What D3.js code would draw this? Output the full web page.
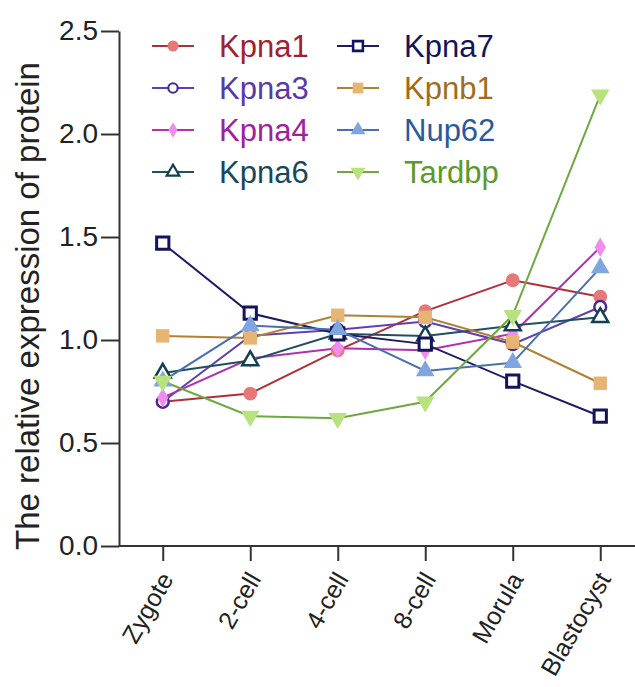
<!DOCTYPE html>
<html><head><meta charset="utf-8">
<script src="https://cdn.jsdelivr.net/npm/d3@7/dist/d3.min.js"></script>
<style>body{margin:0;background:#fff}svg{display:block;font-family:"Liberation Sans",Arial,sans-serif}</style>
</head><body><svg id="c" width="635" height="687"></svg>
<script>
const categories = ["Zygote","2-cell","4-cell","8-cell","Morula","Blastocyst"];
const yTicks = [0,0.5,1.0,1.5,2.0,2.5];
const seriesNames = ["Kpna1","Kpna3","Kpna4","Kpna6","Kpna7","Kpnb1","Nup62","Tardbp"];
const kpna1  = [0.70,0.74,0.95,1.14,1.29,1.21];
const kpna3  = [0.70,1.02,1.05,1.09,0.98,1.16];
const kpna4  = [0.72,0.91,0.96,0.95,1.03,1.45];
const kpna6  = [0.84,0.90,1.03,1.02,1.07,1.11];
const kpna7  = [1.47,1.13,1.03,0.98,0.80,0.63];
const kpnb1  = [1.02,1.01,1.12,1.11,0.99,0.79];
const nup62  = [0.80,1.07,1.05,0.85,0.89,1.35];
const tardbp = [0.80,0.63,0.62,0.70,1.12,2.19];
const seriesValues = [kpna1,kpna3,kpna4,kpna6,kpna7,kpnb1,nup62,tardbp];

const styles = {
  Kpna1:{line:"#b03038",fill:"#e87878",stroke:"none",sym:"circle",size:150,text:"#a32030"},
  Kpna3:{line:"#6040b0",fill:"#fff",stroke:"#4a2a90",sym:"circle",size:110,text:"#5a38a8",sw:2.5},
  Kpna4:{line:"#b030b0",fill:"#f08cf0",stroke:"none",sym:"diamond",size:110,text:"#a020a0"},
  Kpna6:{line:"#1e5060",fill:"#fff",stroke:"#143f50",sym:"triangle",size:110,text:"#18485a",sw:2.5},
  Kpna7:{line:"#1c1c62",fill:"#fff",stroke:"#14145e",sym:"square",size:150,text:"#14145a",sw:3},
  Kpnb1:{line:"#b08034",fill:"#e8b474",stroke:"none",sym:"square",size:180,text:"#a06c20"},
  Nup62:{line:"#4870b0",fill:"#80a6e0",stroke:"none",sym:"triangle",size:150,text:"#2a5a9a"},
  Tardbp:{line:"#70a840",fill:"#b8e27e",stroke:"none",sym:"tridown",size:150,text:"#5a9a2a"}
};
const symMap = {circle:d3.symbolCircle,diamond:d3.symbolDiamond,triangle:d3.symbolTriangle,square:d3.symbolSquare,tridown:d3.symbolTriangle};

const svg = d3.select("#c");
const x = d3.scalePoint().domain(categories).range([119,644]).padding(0.5);
const y = d3.scaleLinear().domain([0,2.5]).range([546,31]);

// axes
const yAx = svg.append("g").attr("transform","translate(119,0)")
  .call(d3.axisLeft(y).tickValues(yTicks).tickFormat(d3.format(".1f")).tickSize(18).tickSizeOuter(0).tickPadding(3));
yAx.selectAll("text").attr("font-size",28).attr("fill","#222").attr("font-family","Liberation Sans, Arial, sans-serif");
yAx.selectAll("line,path").attr("stroke","#333").attr("stroke-width",2);

const xAx = svg.append("g").attr("transform","translate(0,546)")
  .call(d3.axisBottom(x).tickSize(15).tickSizeOuter(0));
xAx.select(".domain").attr("d","M119,0H644");
xAx.selectAll("line,path").attr("stroke","#333").attr("stroke-width",2);
xAx.selectAll("text").attr("font-size",25).attr("fill","#222").attr("font-family","Liberation Sans, Arial, sans-serif")
  .attr("text-anchor","end").attr("y",0).attr("dy",0)
  .attr("transform","translate(11,33) rotate(-60)");

svg.append("text").attr("transform","translate(39,306) rotate(-90)")
  .attr("text-anchor","middle").attr("font-size",33).attr("fill","#222")
  .text("The relative expression of protein");

function drawSym(g, name, cx, cy, k){
  const s = styles[name];
  k = k || 1;
  const path = d3.symbol().type(symMap[s.sym]).size(s.size*k*k)();
  g.append("path").attr("d",path)
    .attr("transform",`translate(${cx},${cy})` + (s.sym==="tridown"?" rotate(180)":""))
    .attr("fill",s.fill).attr("stroke",s.stroke).attr("stroke-width",(s.sw||0)*(k<1?0.85:1));
}

const line = d3.line().x((d,i)=>x(categories[i])).y(d=>y(d));
const plot = svg.append("g");
seriesNames.forEach((n,k)=>{
  plot.append("path").attr("d",line(seriesValues[k])).attr("fill","none")
    .attr("stroke",styles[n].line).attr("stroke-width",2);
});
seriesNames.forEach((n,k)=>{
  const g = plot.append("g");
  seriesValues[k].forEach((v,i)=>drawSym(g,n,x(categories[i]),y(v)));
});

// legend
const leg = svg.append("g");
seriesNames.forEach((n,k)=>{
  const col = Math.floor(k/4), row = k%4;
  const lx = col===0?152:337, ly = 46 + row*42;
  const s = styles[n];
  leg.append("line").attr("x1",lx).attr("x2",lx+42).attr("y1",ly).attr("y2",ly)
    .attr("stroke",s.line).attr("stroke-width",2);
  drawSym(leg,n,lx+21,ly,0.8);
  leg.append("text").attr("x",lx+67).attr("y",ly).attr("dy","0.35em")
    .attr("font-size",31).attr("fill",s.text).text(n);
});
</script></body></html>
